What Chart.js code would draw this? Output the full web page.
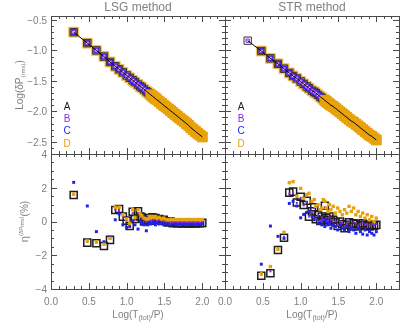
<!DOCTYPE html>
<html>
<head>
<meta charset="utf-8">
<script src="https://cdn.jsdelivr.net/npm/chart.js@4"></script>
<style>
  html, body { margin: 0; padding: 0; background: #fff; }
  #wrap { position: relative; width: 407px; height: 332px; }
  #wrap canvas { position: absolute; left: 0; top: 0; width: 407px; height: 332px; }
</style>
</head>
<body>
<div id="wrap">
  <canvas id="lsgTop" width="407" height="332"></canvas>
  <canvas id="strTop" width="407" height="332"></canvas>
  <canvas id="lsgBot" width="407" height="332"></canvas>
  <canvas id="strBot" width="407" height="332"></canvas>
</div>
<script>
// Log(T_tot/P) sampling
const xLog = [0.30, 0.48, 0.60, 0.70, 0.78, 0.85, 0.90, 0.95, 1.00, 1.04, 1.08, 1.11, 1.15, 1.18,
  1.20, 1.23, 1.26, 1.28, 1.30, 1.32, 1.34, 1.36, 1.38, 1.40, 1.43, 1.46, 1.49, 1.52, 1.55, 1.58,
  1.61, 1.64, 1.67, 1.70, 1.73, 1.76, 1.79, 1.82, 1.85, 1.88, 1.91, 1.94, 1.97, 2.00];

// Log(dP_rms), top panels (A..D overlap)
const lsgTop = [-0.70, -0.88, -1.00, -1.10, -1.19, -1.26, -1.31, -1.36, -1.41, -1.45, -1.49, -1.52,
  -1.56, -1.59, -1.61, -1.64, -1.67, -1.69, -1.71, -1.73, -1.75, -1.77, -1.79, -1.81, -1.84, -1.87,
  -1.90, -1.93, -1.96, -1.99, -2.02, -2.05, -2.08, -2.11, -2.14, -2.17, -2.20, -2.23, -2.27, -2.30,
  -2.33, -2.36, -2.39, -2.42];
const strTop = [-0.84, -1.01, -1.13, -1.22, -1.30, -1.37, -1.42, -1.46, -1.51, -1.55, -1.59, -1.62,
  -1.66, -1.68, -1.70, -1.73, -1.76, -1.78, -1.80, -1.82, -1.84, -1.86, -1.88, -1.90, -1.92, -1.95,
  -1.98, -2.01, -2.04, -2.07, -2.10, -2.13, -2.16, -2.18, -2.21, -2.24, -2.27, -2.30, -2.33, -2.36,
  -2.39, -2.41, -2.44, -2.47];

// eta (%), bottom panels
const lsgA = [1.57, -1.25, -1.29, -1.45, -1.09, 0.68, 0.74, 0.29, 0.05, -0.27, 0.58, 0.15, 0.60, 0.30,
  0.25, 0.00, 0.05, 0.10, 0.20, 0.05, 0.25, 0.15, 0.20, 0.10, 0.15, 0.05, 0.10, 0.00, -0.05, 0.00,
  -0.10, -0.05, -0.10, -0.08, -0.12, -0.08, -0.10, -0.12, -0.08, -0.10, -0.12, -0.08, -0.10, -0.08];
const lsgB = [1.60, -1.20, -1.25, -1.35, -1.00, 0.70, 0.65, 0.30, 0.05, -0.20, 0.50, 0.10, 0.50, 0.30,
  0.20, 0.05, 0.00, 0.05, 0.15, 0.05, 0.20, 0.10, 0.15, 0.05, 0.10, 0.05, 0.05, 0.00, 0.00, 0.00,
  -0.05, 0.00, -0.05, -0.02, -0.05, -0.02, -0.05, -0.05, -0.02, -0.05, -0.05, -0.02, -0.05, -0.02];
const lsgC = [2.32, 0.92, -0.60, -1.20, -0.92, 0.10, 0.45, -0.20, -0.35, -0.30, 0.05, -0.20, -0.45, 0.00,
  -0.10, -0.20, -0.55, -0.20, -0.05, -0.15, 0.00, -0.10, -0.20, -0.05, -0.15, -0.10, -0.20, -0.10, -0.15, -0.20,
  -0.10, -0.15, -0.20, -0.12, -0.18, -0.12, -0.15, -0.18, -0.12, -0.15, -0.18, -0.12, -0.15, -0.12];
const lsgD = [1.62, -1.15, -1.20, -1.35, -1.00, 0.85, 0.85, 0.40, 0.15, -0.10, 0.70, 0.25, 0.70, 0.45,
  0.35, 0.20, 0.15, 0.15, 0.30, 0.20, 0.30, 0.25, 0.30, 0.20, 0.25, 0.15, 0.20, 0.12, 0.10, 0.12,
  0.10, 0.12, 0.10, 0.12, 0.10, 0.12, 0.10, 0.12, 0.10, 0.12, 0.10, 0.12, 0.10, 0.12];

const strA = [null, -3.22, -3.07, -1.69, -0.96, 1.71, 1.77, 1.13, 1.47, 0.98, 1.23, 0.29, 0.60, 0.84,
  0.13, 0.40, 0.03, 0.30, 0.10, 0.93, 0.20, 0.00, 0.30, 0.09, 0.10, -0.05, -0.27, 0.00, -0.15, -0.40,
  -0.20, -0.05, -0.30, -0.10, -0.15, -0.30, -0.20, -0.10, -0.25, -0.20, -0.30, -0.20, -0.25, -0.20];
const strB = [null, -3.15, -2.95, -1.60, -0.90, 1.65, 1.70, 1.10, 1.40, 0.95, 1.15, 0.30, 0.55, 0.80,
  0.15, 0.35, 0.05, 0.25, 0.10, 0.85, 0.20, 0.05, 0.25, 0.10, 0.10, 0.00, -0.20, 0.00, -0.10, -0.30,
  -0.15, 0.00, -0.25, -0.05, -0.10, -0.25, -0.15, -0.05, -0.20, -0.15, -0.25, -0.15, -0.20, -0.15];
const strC = [null, -2.53, -0.27, -0.88, -1.00, 1.07, 1.20, 0.92, 0.22, 0.42, 0.54, 0.60, 0.30, 0.10,
  0.20, -0.10, 0.00, -0.20, 0.10, -0.30, 0.00, -0.20, -0.10, -0.40, -0.20, -0.30, -0.50, -0.20, -0.40, -0.50,
  -0.30, -0.60, -0.40, -0.50, -0.70, -0.40, -0.60, -0.75, -0.50, -0.80, -0.60, -0.70, -0.80, -0.60];
const strD = [null, -3.10, -2.67, -1.65, -0.64, 2.30, 2.36, 1.50, 1.96, 1.37, 1.60, 1.67, 1.20, 1.30,
  0.90, 1.00, 0.70, 0.80, 1.30, 1.20, 0.80, 0.60, 1.00, 0.70, 0.90, 0.50, 0.80, 0.60, 0.40, 0.70,
  0.50, 0.90, 0.60, 0.80, 0.40, 0.60, 0.30, 0.50, 0.20, 0.40, 0.10, 0.30, 0.00, 0.20];

// ticks
const xTicks = [0.0, 0.5, 1.0, 1.5, 2.0];
const xTickLabels = ['0.0', '0.5', '1.0', '1.5', '2.0'];
const topTicks = [-0.5, -1.0, -1.5, -2.0, -2.5];
const topTickLabels = ['\u22120.5', '\u22121.0', '\u22121.5', '\u22122.0', '\u22122.5'];
const botTicks = [4, 2, 0, -2, -4];
const botTickLabels = ['4', '2', '0', '\u22122', '\u22124'];
const seriesNames = ['A', 'B', 'C', 'D'];

const COL = { A: '#1a1a1a', B: '#8a2be2', C: '#2222e6', D: '#e8a20c' };
const GREY = '#808080';
const AXIS = '#4a4a4a';
const FONT = '"Liberation Sans", Arial, sans-serif';

const pts = (ys) => xLog.map((x, i) => ({ x, y: ys[i] }));

function richText(ctx, parts, x, y, rot) {
  ctx.save();
  ctx.translate(x, y);
  if (rot) ctx.rotate(-Math.PI / 2);
  let w = 0;
  parts.forEach(p => { ctx.font = p[1] + 'px ' + FONT; w += ctx.measureText(p[0]).width; });
  let cx = -w / 2;
  ctx.textBaseline = 'middle';
  ctx.textAlign = 'left';
  ctx.fillStyle = GREY;
  parts.forEach(p => {
    ctx.font = p[1] + 'px ' + FONT;
    ctx.fillText(p[0], cx, p[2]);
    cx += ctx.measureText(p[0]).width;
  });
  ctx.restore();
}

const frame = {
  id: 'frame',
  afterDatasetsDraw(chart) {
    const o = chart.options.plugins.frame;
    const { ctx, chartArea: a, scales: { x, y } } = chart;
    ctx.save();
    ctx.strokeStyle = AXIS;
    ctx.lineWidth = 1;
    ctx.strokeRect(a.left + 0.5, a.top + 0.5, a.right - a.left, a.bottom - a.top);
    ctx.beginPath();
    for (let k = 0; k * 0.1 <= x.max + 1e-6; k++) {
      const px = Math.round(x.getPixelForValue(k * 0.1)) + 0.5;
      const len = k % 5 === 0 ? 6 : 3;
      ctx.moveTo(px, a.bottom); ctx.lineTo(px, a.bottom - len);
      ctx.moveTo(px, a.top); ctx.lineTo(px, a.top + len);
    }
    const per = Math.round(o.yMajor / o.yMinor);
    for (let k = Math.ceil(y.min / o.yMinor - 1e-6); k * o.yMinor <= y.max + 1e-6; k++) {
      const py = Math.round(y.getPixelForValue(k * o.yMinor)) + 0.5;
      const len = k % per === 0 ? 6 : 3;
      ctx.moveTo(a.left, py); ctx.lineTo(a.left + len, py);
      ctx.moveTo(a.right, py); ctx.lineTo(a.right - len, py);
    }
    ctx.stroke();

    ctx.fillStyle = GREY;
    ctx.font = '10px ' + FONT;
    if (o.yLabels) {
      ctx.textAlign = 'right';
      ctx.textBaseline = 'middle';
      o.yTicks.forEach((v, i) => ctx.fillText(o.yLabels[i], a.left - 4, y.getPixelForValue(v) + 1));
    }
    if (o.xLabels) {
      ctx.textAlign = 'center';
      ctx.textBaseline = 'middle';
      xTicks.forEach((v, i) => ctx.fillText(xTickLabels[i], x.getPixelForValue(v), a.bottom + 13));
      richText(ctx, [['Log(T', 10, 0], ['(tot)', 7, 3], ['/P)', 10, 0]], (a.left + a.right) / 2, a.bottom + 26, false);
    }
    if (o.title) {
      ctx.font = '12px ' + FONT;
      ctx.textAlign = 'center';
      ctx.textBaseline = 'middle';
      ctx.fillText(o.title, (a.left + a.right) / 2, 8);
    }
    if (o.legend) {
      ctx.font = '10px ' + FONT;
      ctx.textAlign = 'center';
      ctx.textBaseline = 'middle';
      seriesNames.forEach((s, i) => {
        ctx.fillStyle = COL[s];
        ctx.fillText(s, a.left + 16, a.top + 91 + 12.3 * i);
      });
    }
    if (o.yTitle === 'top') {
      richText(ctx, [['Log(\u03b4P', 10, 0], ['(rms)', 6, 3], [')', 10, 0]], 20, (a.top + a.bottom) / 2, true);
    } else if (o.yTitle === 'bot') {
      richText(ctx, [['\u03b7', 11, 0], ['(\u03b4P', 6, -4], ['rms', 5, -2], [')', 6, -4], ['(%)', 10, 0]], 25, (a.top + a.bottom) / 2, true);
    }
    ctx.restore();
  }
};

function makeChart(id, pad, yMin, yMax, datasets, frameOpts) {
  return new Chart(document.getElementById(id), {
    type: 'scatter',
    data: { datasets },
    options: {
      responsive: false,
      devicePixelRatio: 1,
      animation: false,
      layout: { padding: pad },
      plugins: { legend: { display: false }, tooltip: { enabled: false }, frame: frameOpts },
      scales: {
        x: { type: 'linear', min: 0, max: 2.3, display: false },
        y: { type: 'linear', min: yMin, max: yMax, display: false }
      }
    },
    plugins: [frame]
  });
}

// sparse points keep D underneath; in the dense tail later D squares cover B/C
function topSets(ys, skipFirst) {
  const all = pts(ys);
  const first = skipFirst ? 1 : 0;
  const split = 19;
  return [
    { data: all, showLine: true, pointRadius: 0, borderColor: '#000', borderWidth: 1, order: 1 },
    { data: all.slice(split), pointStyle: 'rect', pointRadius: 7, backgroundColor: COL.D, borderColor: COL.D, borderWidth: 1, order: 2 },
    { data: all, pointStyle: 'rect', pointRadius: 2.4, backgroundColor: '#e4d4ff', borderColor: COL.B, borderWidth: 1, order: 3 },
    { data: all.slice(first), pointStyle: 'rect', pointRadius: 4.2, backgroundColor: COL.C, borderWidth: 0, order: 4 },
    { data: all, pointStyle: 'rect', pointRadius: 5.2, backgroundColor: 'rgba(0,0,0,0)', borderColor: '#333', borderWidth: 1, order: 5 },
    { data: all.slice(first, split), pointStyle: 'rect', pointRadius: 7, backgroundColor: COL.D, borderColor: '#f2c46a', borderWidth: 1, order: 6 }
  ];
}

function botSets(a, b, c, d) {
  return [
    { data: pts(d), pointStyle: 'rect', pointRadius: 2.4, backgroundColor: COL.D, borderWidth: 0, order: 1 },
    { data: pts(b), pointStyle: 'rect', pointRadius: 1.4, backgroundColor: COL.B, borderWidth: 0, order: 2 },
    { data: pts(c), pointStyle: 'rect', pointRadius: 2.1, backgroundColor: COL.C, borderWidth: 0, order: 3 },
    { data: pts(a), pointStyle: 'rect', pointRadius: 5, backgroundColor: 'rgba(0,0,0,0)', borderColor: '#1e1e1e', borderWidth: 1.5, order: 4 }
  ];
}

const left = { l: 51, r: 407 - 225 };
const right = { l: 225, r: 407 - 399 };
const topV = { t: 16, b: 332 - 154 };
const botV = { t: 154, b: 332 - 289 };

makeChart('lsgTop', { left: left.l, right: left.r, top: topV.t, bottom: topV.b }, -2.70, -0.435,
  topSets(lsgTop, false),
  { title: 'LSG method', legend: true, yMajor: 0.5, yMinor: 0.1, yTicks: topTicks, yLabels: topTickLabels, yTitle: 'top' });
makeChart('strTop', { left: right.l, right: right.r, top: topV.t, bottom: topV.b }, -2.70, -0.435,
  topSets(strTop, true),
  { title: 'STR method', legend: true, yMajor: 0.5, yMinor: 0.1 });
makeChart('lsgBot', { left: left.l, right: left.r, top: botV.t, bottom: botV.b }, -4, 4,
  botSets(lsgA, lsgB, lsgC, lsgD),
  { xLabels: true, yMajor: 2, yMinor: 0.5, yTicks: botTicks, yLabels: botTickLabels, yTitle: 'bot' });
makeChart('strBot', { left: right.l, right: right.r, top: botV.t, bottom: botV.b }, -4, 4,
  botSets(strA, strB, strC, strD),
  { xLabels: true, yMajor: 2, yMinor: 0.5 });
</script>
</body>
</html>
